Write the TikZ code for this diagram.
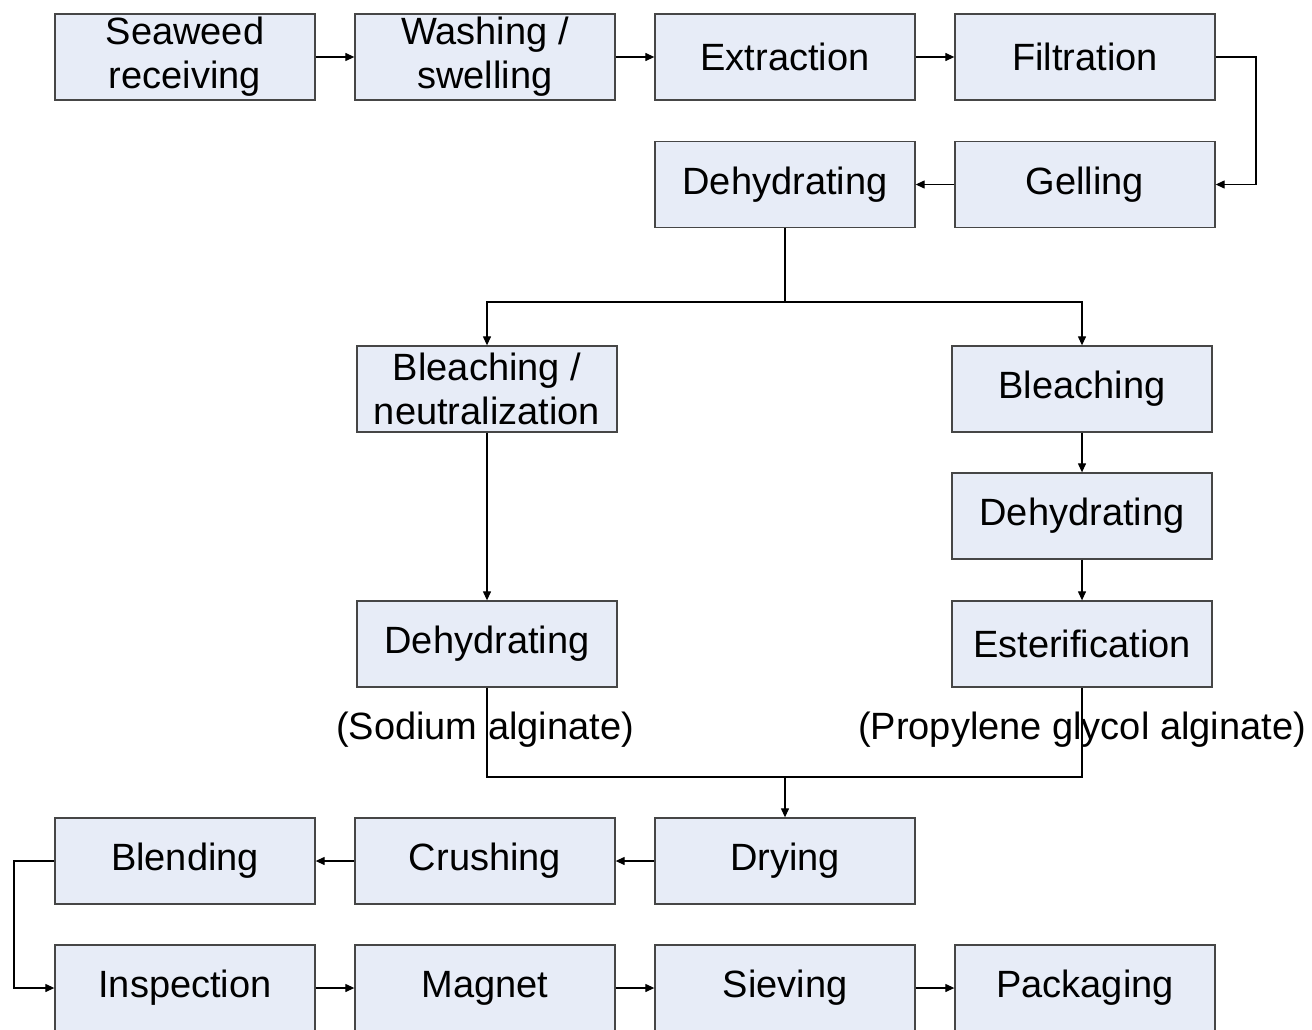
\documentclass[tikz,border=0pt]{standalone}
\usepackage{fontspec}
\setmainfont{Liberation Sans}
\usetikzlibrary{arrows.meta}
\definecolor{boxfill}{RGB}{231,236,247}
\definecolor{boxline}{RGB}{70,70,70}
\begin{document}
\begin{tikzpicture}[x=1pt,y=-1pt,
  proc/.style={draw=boxline,line width=1.3pt,fill=boxfill,minimum width=260pt,minimum height=86pt,inner sep=0pt,align=center,font=\fontsize{38}{44}\selectfont},
  lbl/.style={inner sep=0pt,font=\fontsize{38}{44}\selectfont},
  conn/.style={draw=black,line width=1.2pt,-{Triangle[length=9pt,width=8pt]}},
  plain/.style={draw=black,line width=1.2pt}]
\useasboundingbox (0,0) rectangle (1312,1030);
% row 1
\node[proc] (seaweed) at (185,57) {Seaweed\\receiving};
\node[proc] (washing) at (485,57) {Washing /\\swelling};
\node[proc] (extraction) at (785,57) {Extraction};
\node[proc] (filtration) at (1085,57) {Filtration};
% row 2
\node[proc] (dehyd1) at (785,184.5) {Dehydrating};
\node[proc] (gelling) at (1085,184.5) {Gelling};
% branches
\node[proc] (bleachneut) at (487,389) {Bleaching /\\neutralization};
\node[proc] (bleach) at (1082,389) {Bleaching};
\node[proc] (dehyd3) at (1082,516) {Dehydrating};
\node[proc] (dehyd2) at (487,644) {Dehydrating};
\node[proc] (ester) at (1082,644) {Esterification};
\node[lbl] (sodium) at (485,730) {(Sodium alginate)};
\node[lbl] (propylene) at (1082,730) {(Propylene glycol alginate)};
% row drying
\node[proc] (drying) at (785,861) {Drying};
\node[proc] (crushing) at (485,861) {Crushing};
\node[proc] (blending) at (185,861) {Blending};
% last row
\node[proc] (inspection) at (185,988) {Inspection};
\node[proc] (magnet) at (485,988) {Magnet};
\node[proc] (sieving) at (785,988) {Sieving};
\node[proc] (packaging) at (1085,988) {Packaging};
% coordinates
\coordinate (fr) at (1256,57);
\coordinate (split) at (785,302);
\coordinate (join) at (785,777);
\coordinate (bl) at (14,861);
% connectors
\draw[conn] (seaweed) -- (washing);
\draw[conn] (washing) -- (extraction);
\draw[conn] (extraction) -- (filtration);
\draw[conn] (filtration.east) -- (fr) |- (gelling.east);
\draw[conn] (gelling) -- (dehyd1);
\draw[plain] (dehyd1.south) -- (split);
\draw[conn] (split) -| (bleachneut.north);
\draw[conn] (split) -| (bleach.north);
\draw[conn] (bleachneut) -- (dehyd2);
\draw[conn] (bleach) -- (dehyd3);
\draw[conn] (dehyd3) -- (ester);
\draw[plain] (dehyd2.south) |- (join) -| (ester.south);
\draw[conn] (join) -- (drying.north);
\draw[conn] (drying) -- (crushing);
\draw[conn] (crushing) -- (blending);
\draw[conn] (blending.west) -- (bl) |- (inspection.west);
\draw[conn] (inspection) -- (magnet);
\draw[conn] (magnet) -- (sieving);
\draw[conn] (sieving) -- (packaging);
\end{tikzpicture}
\end{document}
